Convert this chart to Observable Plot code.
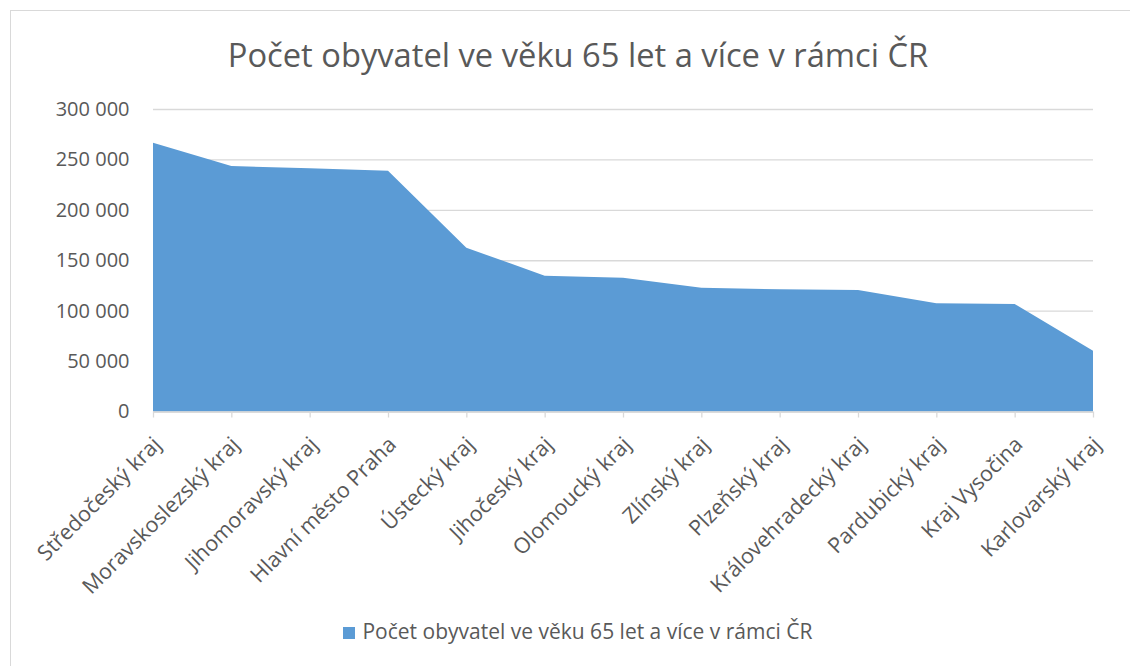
<!DOCTYPE html>
<html>
<head>
<meta charset="utf-8">
<script src="https://cdn.jsdelivr.net/npm/d3@7"></script>
<script src="https://cdn.jsdelivr.net/npm/@observablehq/plot@0.6"></script>
<style>
  html, body { margin: 0; padding: 0; background: #fff; overflow: hidden; }
  #wrap { position: relative; width: 1130px; height: 666px; overflow: hidden; font-family: "Open Sans", sans-serif; color: #595959; }
  #frame { position: absolute; left: 10px; top: 10px; width: 1136px; height: 700px; border-top: 1.5px solid #d9d9d9; border-left: 1.5px solid #d9d9d9; box-sizing: border-box; }
  #title { position: absolute; left: 10px; width: 1136px; top: 33px; text-align: center; font-size: 32.7px; line-height: 44px; }
  #chart { position: absolute; left: 0; top: 80px; }
  #legend { position: absolute; left: 10px; width: 1136px; top: 617px; text-align: center; font-size: 21px; line-height: 28px; }
  #legend .sw { display: inline-block; width: 12px; height: 12px; background: #5B9BD5; margin-right: 7px; vertical-align: 0px; }
</style>
</head>
<body>
<div id="wrap">
  <div id="frame"></div>
  <div id="title">Počet obyvatel ve věku 65 let a více v rámci ČR</div>
  <div id="chart"></div>
  <div id="legend"><span class="sw"></span>Počet obyvatel ve věku 65 let a více v rámci ČR</div>
</div>
<script>
const regions = [
  "Středočeský kraj", "Moravskoslezský kraj", "Jihomoravský kraj", "Hlavní město Praha",
  "Ústecký kraj", "Jihočeský kraj", "Olomoucký kraj", "Zlínský kraj", "Plzeňský kraj",
  "Královehradecký kraj", "Pardubický kraj", "Kraj Vysočina", "Karlovarský kraj"
];
const seniors = [266500, 243400, 241200, 238800, 162400, 134700, 132700, 122800, 121200, 120500, 107300, 106600, 60300];
const yTicks = [0, 50000, 100000, 150000, 200000, 250000, 300000];
const seriesName = "Počet obyvatel ve věku 65 let a více v rámci ČR";

const data = regions.map((r, i) => ({region: r, value: seniors[i]}));
const fmt = v => d3.format(",")(v).replace(/,/g, " ");

const chart = Plot.plot({
  width: 1130,
  height: 530,
  marginLeft: 153,
  marginRight: 37,
  marginTop: 29,
  marginBottom: 198.5,
  style: { fontFamily: "Open Sans, sans-serif", background: "transparent" },
  x: { type: "point", domain: regions, padding: 0, round: false, label: null },
  y: { domain: [0, 300000], ticks: yTicks, label: null },
  marks: [
    Plot.gridY(yTicks, { stroke: "#d9d9d9", strokeOpacity: 1, strokeWidth: 1.3 }),
    Plot.areaY(data, { x: "region", y: "value", fill: "#5B9BD5", curve: "linear" }),
    Plot.ruleY([0], { stroke: "#d9d9d9", strokeWidth: 1.3 }),
    Plot.axisY(yTicks, { tickSize: 0, tickPadding: 24, tickFormat: fmt, fontSize: 20, fill: "#595959", label: null }),
    Plot.axisX({ tickSize: 6, tickFormat: () => "", stroke: "#d9d9d9", strokeWidth: 1.3, label: null }),
    Plot.axisX({ tickSize: 0, tickPadding: 29, tickRotate: -45, fontSize: 21.5, fill: "#595959", label: null, dx: 4 })
  ]
});
document.getElementById("chart").appendChild(chart);
document.getElementById("legend").lastChild.textContent = seriesName;
</script>
</body>
</html>
